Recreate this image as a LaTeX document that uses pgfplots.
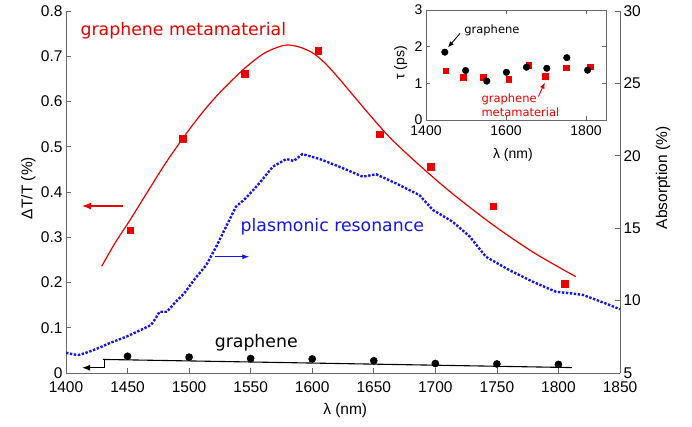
\documentclass[border=0pt]{standalone}
\usepackage{fontspec}
\setmainfont{Liberation Sans}
\newfontfamily\dejavu{DejaVu Sans}
\usepackage{pgfplots}
\pgfplotsset{compat=1.18}
\usetikzlibrary{arrows.meta}
\definecolor{axgray}{RGB}{105,105,105}
\definecolor{myred}{RGB}{235,0,0}
\definecolor{myblue}{RGB}{20,20,235}
\begin{document}
\begin{tikzpicture}[x=1pt,y=1pt]
\path[use as bounding box] (0,0) rectangle (692,426);
\pgfplotsset{
  every axis/.append style={
    scale only axis,
    /pgf/number format/assume math mode=true,
    /pgf/number format/1000 sep={},
    tick align=inside,
    axis line style={draw=axgray, line width=0.8pt},
    tick style={draw=axgray, line width=0.7pt},
  },
}
% left axis: Delta T / T
\begin{axis}[
  at={(66pt,53pt)}, anchor=south west,
  width=554pt, height=362pt,
  xmin=1400, xmax=1850, ymin=0, ymax=0.8,
  axis x line*=bottom, axis y line*=left,
  xtick={1400,1450,1500,1550,1600,1650,1700,1750,1800,1850},
  ytick={0,0.1,0.2,0.3,0.4,0.5,0.6,0.7,0.8},
  yticklabels={0,0.1,0.2,0.3,0.4,0.5,0.6,0.7,0.8},
  major tick length=5pt,
  ticklabel style={font=\fontsize{15.5}{17}\selectfont},
  xticklabel style={yshift=-5pt},
  label style={font=\fontsize{15.5}{17}\selectfont},
  xlabel={λ (nm)}, ylabel={ΔT/T (\%)},
  xlabel style={at={(axis description cs:0.504,-0.104)}, anchor=center},
  ylabel style={at={(axis description cs:-0.068,0.511)}, anchor=center},
]
% fit curve, graphene metamaterial
\addplot[myred, line width=1.2pt, smooth] coordinates {
  (1429,0.236) (1440,0.288) (1452,0.338) (1465,0.395) (1480,0.460)
  (1495,0.519) (1510,0.573) (1525,0.620) (1545,0.673) (1560,0.705)
  (1572,0.720) (1580,0.725) (1590,0.720) (1600,0.708) (1610,0.686)
  (1622,0.650) (1635,0.608) (1650,0.560) (1665,0.515) (1690,0.452)
  (1715,0.394) (1747,0.327) (1780,0.266) (1814,0.213)
};
\addplot[only marks, mark=square*, mark size=3.3pt, mark options={draw=myred, fill=myred}] coordinates {
  (1452,0.316) (1495,0.518) (1545,0.662) (1605,0.712)
  (1655,0.528) (1696,0.456) (1747,0.369) (1805,0.197)
};
% graphene
\addplot[black, line width=1.1pt] coordinates {(1430,0.030) (1811,0.012)};
\addplot[only marks, mark=*, mark size=3.6pt, mark options={draw=black, fill=black}] coordinates {
  (1450,0.037) (1500,0.035) (1550,0.032) (1600,0.031)
  (1650,0.027) (1700,0.021) (1750,0.020) (1800,0.019)
};
% annotations
\node[anchor=west, myred, font=\dejavu\fontsize{17.3}{19}\selectfont] at (axis cs:1409,0.756) {graphene metamaterial};
\draw[myred, line width=1.1pt, -{Latex[length=9pt,width=7pt]}] (axis cs:1446.5,0.369) -- (axis cs:1413,0.369);
\node[anchor=west, myblue, font=\dejavu\fontsize{17.3}{19}\selectfont] at (axis cs:1539,0.323) {plasmonic resonance};
\draw[myblue, line width=1.1pt, -{Latex[length=7pt,width=5pt]}] (axis cs:1521,0.257) -- (axis cs:1549,0.257);
\node[anchor=west, black, font=\dejavu\fontsize{17.3}{19}\selectfont] at (axis cs:1518,0.066) {graphene};
\draw[black, line width=1.1pt, -{Latex[length=8pt,width=6pt]}] (axis cs:1431,0.030) -- (axis cs:1431,0.0117) -- (axis cs:1413,0.0117);
\end{axis}
% right axis: absorption
\begin{axis}[
  at={(66pt,53pt)}, anchor=south west,
  width=554pt, height=362pt,
  xmin=1400, xmax=1850, ymin=5, ymax=30,
  axis x line=none, axis y line*=right,
  ytick={5,10,15,20,25,30},
  major tick length=5pt,
  ticklabel style={font=\fontsize{15.5}{17}\selectfont},
  label style={font=\fontsize{15.5}{17}\selectfont},
  ylabel={Absorption (\%)},
  ylabel style={at={(axis description cs:1.078,0.539)}, anchor=center},
]
\addplot[myblue, line width=2.4pt, dash pattern=on 2.4pt off 1.6pt] coordinates {
  (1400,6.40) (1405,6.30) (1410,6.24) (1415,6.36) (1421,6.54) (1428,6.78)
  (1435,7.05) (1442,7.28) (1449,7.51) (1459,7.90) (1469,8.31) (1473,8.80)
  (1476,9.23) (1482,9.23) (1488,9.81) (1496,10.50) (1505,11.54) (1514,12.46)
  (1522,13.72) (1530,15.10) (1538,16.48) (1546,17.07) (1557,18.10) (1568,19.25)
  (1579,19.78) (1585,19.64) (1592,20.12) (1606,19.78) (1622,19.25) (1641,18.56)
  (1652,18.72) (1668,18.10) (1687,17.29) (1698,16.26) (1714,15.45) (1728,14.42)
  (1741,13.03) (1760,12.11) (1779,11.31) (1798,10.61) (1810,10.50) (1820,10.39)
  (1831,10.04) (1840,9.75) (1850,9.40)
};
\end{axis}
% inset: relaxation time
\begin{axis}[
  at={(426pt,306pt)}, anchor=south west,
  width=180pt, height=110pt,
  xmin=1400, xmax=1850, ymin=0, ymax=3,
  xtick={1400,1600,1800}, ytick={0,1,2,3},
  major tick length=4pt,
  axis background/.style={fill=white},
  ticklabel style={font=\fontsize{14}{15}\selectfont},
  xticklabel style={yshift=-2pt},
  label style={font=\fontsize{14}{15}\selectfont},
  xlabel={λ (nm)}, ylabel={τ (ps)},
  xlabel style={at={(axis description cs:0.483,-0.318)}, anchor=center},
  ylabel style={at={(axis description cs:-0.14,0.518)}, anchor=center},
]
\addplot[only marks, mark=square*, mark size=2.8pt, mark options={draw=myred, fill=myred}] coordinates {
  (1449,1.34) (1493,1.17) (1543,1.16) (1607,1.12)
  (1657,1.49) (1698,1.19) (1750,1.43) (1810,1.45)
};
\addplot[only marks, mark=*, mark size=3.3pt, mark options={draw=black, fill=black}] coordinates {
  (1447,1.85) (1499,1.35) (1552,1.06) (1601,1.30)
  (1651,1.44) (1702,1.41) (1752,1.70) (1804,1.36)
};
\node[anchor=west, black, font=\dejavu\fontsize{11.5}{13}\selectfont] at (axis cs:1487,2.44) {graphene};
\draw[black, line width=0.9pt, -{Latex[length=6pt,width=5pt]}] (axis cs:1485,2.36) -- (axis cs:1455,1.98);
\node[anchor=west, myred, font=\dejavu\fontsize{11.5}{13}\selectfont] at (axis cs:1530,0.56) {graphene};
\node[anchor=west, myred, font=\dejavu\fontsize{11.5}{13}\selectfont] at (axis cs:1530,0.21) {metamaterial};
\draw[myred, line width=0.9pt, -{Latex[length=6pt,width=5pt]}] (axis cs:1681,0.64) -- (axis cs:1697,1.02);
\end{axis}
\end{tikzpicture}
\end{document}
